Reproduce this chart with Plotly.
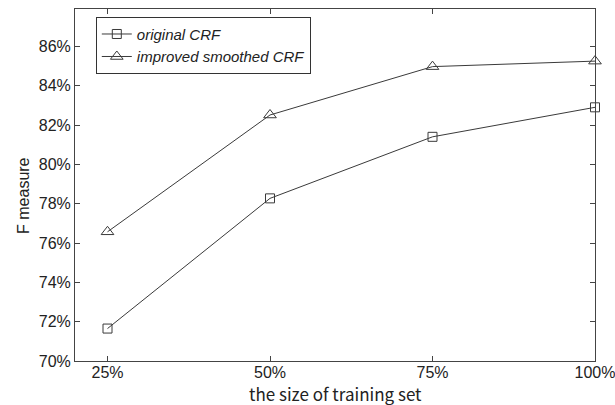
import plotly.graph_objects as go

sizes = [25, 50, 75, 100]
x_tick_labels = ["25%", "50%", "75%", "100%"]
original_crf = [71.65, 78.27, 81.40, 82.90]
improved_crf = [76.57, 82.51, 84.97, 85.25]
y_ticks = [70, 72, 74, 76, 78, 80, 82, 84, 86]
y_tick_labels = [f"{v}%" for v in y_ticks]

line_color = "#3a3a3a"

fig = go.Figure()
fig.add_trace(go.Scatter(
    x=sizes, y=original_crf, name="original CRF", mode="lines+markers",
    line=dict(color=line_color, width=1),
    marker=dict(symbol="square-open", size=9, color=line_color, line=dict(width=1)),
    cliponaxis=False,
))
fig.add_trace(go.Scatter(
    x=sizes, y=improved_crf, name="improved smoothed CRF", mode="lines+markers",
    line=dict(color=line_color, width=1),
    marker=dict(symbol="triangle-up-open", size=11, color=line_color, line=dict(width=1)),
    cliponaxis=False,
))

axis_common = dict(
    showline=True, linecolor="#444", linewidth=1, mirror="ticks",
    ticks="inside", ticklen=5, tickcolor="#444", showgrid=False, zeroline=False,
    automargin=False, ticklabeloverflow="allow",
    tickfont=dict(family="Liberation Sans, Arial, sans-serif", size=16, color="#222"),
)

fig.update_layout(
    width=615, height=405,
    margin=dict(l=75, r=20, t=9, b=44),
    paper_bgcolor="white", plot_bgcolor="white",
    showlegend=True,
    legend=dict(
        x=0.04, y=0.978, xanchor="left", yanchor="top",
        bordercolor="#333", borderwidth=1, bgcolor="white",
        font=dict(family="Liberation Sans, Arial, sans-serif", size=15, color="#222", style="italic"),
        tracegroupgap=0, itemwidth=30,
    ),
    xaxis=dict(range=[20, 100], tickvals=sizes, ticktext=x_tick_labels,
               ticklabelstandoff=-3, **axis_common),
    yaxis=dict(range=[70, 87.9], tickvals=y_ticks, ticktext=y_tick_labels, **axis_common),
    annotations=[
        dict(text="the size of training set", xref="paper", yref="paper",
             x=0.5, y=-0.091, xanchor="center", yanchor="middle", showarrow=False,
             font=dict(family="Noto Sans CJK JP, sans-serif", size=17, color="#222")),
        dict(text="F measure", xref="paper", yref="paper", textangle=-90,
             x=-0.098, y=0.469, xanchor="center", yanchor="middle", showarrow=False,
             font=dict(family="Liberation Sans, Arial, sans-serif", size=16, color="#222")),
    ],
)

fig.write_html("out.html", post_script="document.body.style.margin='0';",
               config={"displayModeBar": False})
